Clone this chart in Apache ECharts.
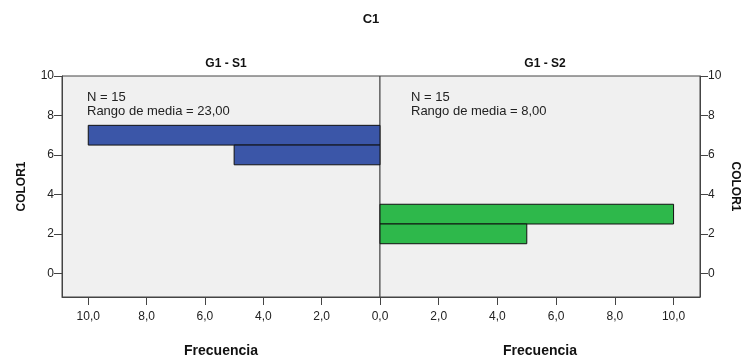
<!DOCTYPE html>
<html><head><meta charset="utf-8">
<script src="https://cdn.jsdelivr.net/npm/echarts@6/dist/echarts.min.js"></script>
<style>html,body{margin:0;padding:0;background:#fff}#c{width:742px;height:362px}</style>
</head><body><div id="c"></div>
<script>
const chartTitle = 'C1';
const panelTitles = ['G1 - S1', 'G1 - S2'];
const yName = 'COLOR1';
const xName = 'Frecuencia';
// bins: [frequency, bin center (COLOR1)]
const s1Bins = [[10, 7], [5, 6]];
const s2Bins = [[10, 3], [5, 2]];
const s1Stats = ['N = 15', 'Rango de media = 23,00'];
const s2Stats = ['N = 15', 'Rango de media = 8,00'];
const xTicks = [0, 2, 4, 6, 8, 10];
const yTicks = [0, 2, 4, 6, 8, 10];
const binWidth = 1;

const fmt = v => v.toFixed(1).replace('.', ',');
const font = 'Arial, "Liberation Sans", sans-serif';
const borderCol = '#444';

function renderBar(params, api) {
  const v = api.value(0), c = api.value(1);
  const p1 = api.coord([0, c + binWidth / 2]);
  const p2 = api.coord([v, c - binWidth / 2]);
  const x = Math.min(p1[0], p2[0]), y = Math.min(p1[1], p2[1]);
  return {
    type: 'rect',
    shape: { x: x, y: y, width: Math.abs(p2[0] - p1[0]), height: Math.abs(p2[1] - p1[1]) },
    style: api.style({ stroke: '#111', lineWidth: 1 })
  };
}

const chart = echarts.init(document.getElementById('c'));
const common = { show: true, backgroundColor: '#f0f0f0', borderColor: borderCol, borderWidth: 1, outerBoundsMode: 'none', containLabel: false };
chart.setOption({
  animation: false,
  title: [
    { text: chartTitle, left: 'center', top: 8, textStyle: { fontFamily: font, fontSize: 13, fontWeight: 'bold', color: '#111' } },
    { text: panelTitles[0], left: 221, textAlign: 'center', top: 53, textStyle: { fontFamily: font, fontSize: 12, fontWeight: 'bold', color: '#111' } },
    { text: panelTitles[1], left: 540, textAlign: 'center', top: 53, textStyle: { fontFamily: font, fontSize: 12, fontWeight: 'bold', color: '#111' } }
  ],
  grid: [
    Object.assign({ left: 62, right: 362, top: 76, bottom: 65 }, common),
    Object.assign({ left: 380, right: 42, top: 76, bottom: 65 }, common)
  ],
  xAxis: [0, 1].map(i => ({
    type: 'value', gridIndex: i, min: 0, max: 10.9, inverse: i === 0, position: 'bottom',
    name: xName, nameLocation: 'middle', nameGap: 47,
    nameTextStyle: { fontFamily: font, fontSize: 14, fontWeight: 'bold', color: '#111' },
    axisLine: { show: true, onZero: false, lineStyle: { color: borderCol } },
    axisTick: { show: true, length: 8, customValues: xTicks, lineStyle: { color: borderCol } },
    axisLabel: { fontFamily: font, fontSize: 12, color: '#222', margin: 14,
      customValues: i === 0 ? xTicks.filter(t => t !== 0) : xTicks, formatter: v => fmt(v) },
    splitLine: { show: false }
  })),
  yAxis: [0, 1].map(i => ({
    type: 'value', gridIndex: i, min: -1.2, max: 10, position: i === 0 ? 'left' : 'right',
    name: yName, nameLocation: 'middle', nameGap: i === 0 ? 34 : 29, nameRotate: i === 0 ? 90 : -90,
    nameTextStyle: { fontFamily: font, fontSize: 12, fontWeight: 'bold', color: '#111' },
    axisLine: { show: true, onZero: false, lineStyle: { color: borderCol } },
    axisTick: { show: true, length: 8, customValues: yTicks, lineStyle: { color: borderCol } },
    axisLabel: { fontFamily: font, fontSize: 12, color: '#222', margin: 8, customValues: yTicks },
    splitLine: { show: false }
  })),
  graphic: [
    { type: 'text', left: 87, top: 90, style: { text: s1Stats.join('\n'), font: '13px ' + font, fill: '#222', lineHeight: 14 } },
    { type: 'text', left: 411, top: 90, style: { text: s2Stats.join('\n'), font: '13px ' + font, fill: '#222', lineHeight: 14 } }
  ],
  series: [
    { type: 'custom', xAxisIndex: 0, yAxisIndex: 0, data: s1Bins, renderItem: renderBar, itemStyle: { color: '#3b56a8' }, encode: { x: 0, y: 1 } },
    { type: 'custom', xAxisIndex: 1, yAxisIndex: 1, data: s2Bins, renderItem: renderBar, itemStyle: { color: '#2eb84b' }, encode: { x: 0, y: 1 } }
  ]
});
</script></body></html>
